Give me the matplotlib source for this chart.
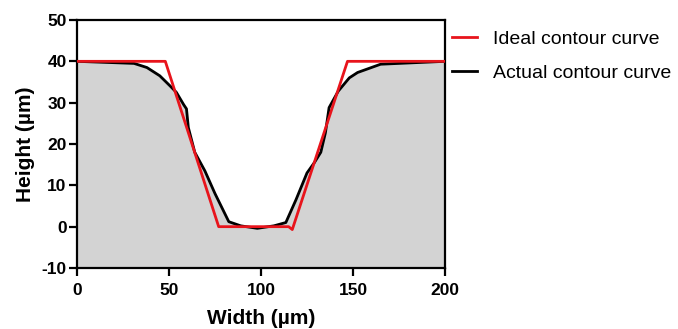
import numpy as np
import matplotlib.pyplot as plt

plt.rcParams['font.family'] = ['Liberation Sans', 'DejaVu Sans']
plt.rcParams['axes.unicode_minus'] = False

# ideal profile (red)
ideal_x = [0, 48, 77, 115, 117, 147, 200]
ideal_y = [40, 40, 0, 0, -0.7, 40, 40]

# measured profile (black)
actual_x = [0, 31, 38, 45, 50.7, 54, 58, 59.5, 60.5, 64, 69.5, 75, 82.5, 89, 98,
            107, 113.5, 119, 125, 129, 132.5, 135, 137, 142, 148, 152.5, 165, 200]
actual_y = [40, 39.5, 38.5, 36.5, 34, 32.5, 29.5, 28.5, 24, 18, 13.5, 8, 1.2, 0.2, -0.4,
            0.2, 1, 6.5, 13, 15.5, 18, 22.7, 28.8, 32.8, 36, 37.3, 39.3, 40]

x_ticks = [0, 50, 100, 150, 200]
y_ticks = [-10, 0, 10, 20, 30, 40, 50]

fig = plt.figure(figsize=(6.78, 3.29), dpi=100)
ax = fig.add_axes([77/678, 61/329, 368/678, 248/329])

ax.fill_between(actual_x, actual_y, -10, color='#d3d3d3', lw=0, zorder=1)
ax.plot(ideal_x, ideal_y, color='#e8141c', lw=2, zorder=3, label='Ideal contour curve')
ax.plot(actual_x, actual_y, color='black', lw=2, zorder=2, label='Actual contour curve')

ax.set_xlim(0, 200)
ax.set_ylim(-10, 50)
ax.set_xticks(x_ticks)
ax.set_yticks(y_ticks)
for s in ax.spines.values():
    s.set_linewidth(1.6)
ax.tick_params(width=1.6, length=5.5, labelsize=12.5)
ax.tick_params(axis='x', pad=5)
ax.tick_params(axis='y', pad=2)
for lab in ax.get_xticklabels() + ax.get_yticklabels():
    lab.set_fontweight('bold')
ax.set_xlabel('Width (µm)', fontsize=15, fontweight='bold', labelpad=8)
ax.set_ylabel('Height (µm)', fontsize=15, fontweight='bold', labelpad=5)

ax.legend(loc='upper left', bbox_to_anchor=(1.018, 0.958), frameon=False,
          fontsize=14, borderaxespad=0, borderpad=0, handlelength=1.3,
          handletextpad=0.82, labelspacing=0.82)

fig.savefig('out.png', dpi=100)
